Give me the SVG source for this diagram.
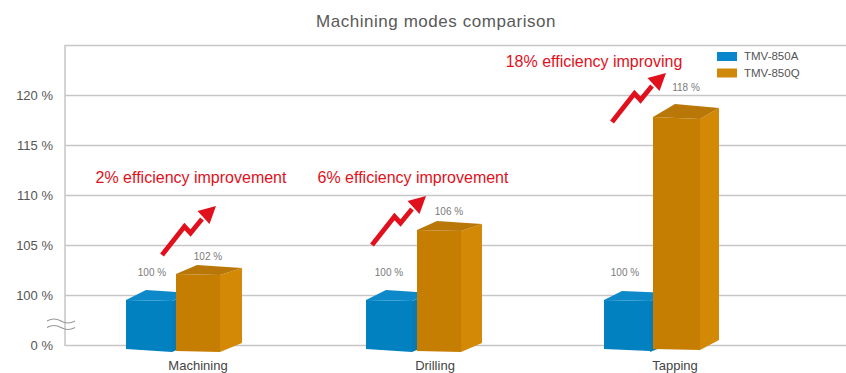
<svg xmlns="http://www.w3.org/2000/svg" width="846" height="373" viewBox="0 0 846 373">
<style>
text{font-family:"Liberation Sans",Arial,sans-serif}
.grid{stroke:#c6c6c6;stroke-width:1.5;fill:none}
.ylab{font-size:13px;fill:#555;text-anchor:end}
.xlab{font-size:13px;fill:#444;text-anchor:middle}
.val{font-size:10px;fill:#7a7a7a;text-anchor:middle}
.red{font-size:16px;fill:#e0111c;text-anchor:middle}
.leg{font-size:11.5px;fill:#555}
.bf{fill:#0281c0}.bt{fill:#0d89c9}.bs{fill:#0a7ab5}
.of{fill:#c67e02}.os{fill:#d38905}.ot{fill:#b97708}
.arr{fill:none;stroke:#e0111c;stroke-width:4.8;stroke-linejoin:miter}
.arh{fill:#e0111c}
</style>
<rect width="846" height="373" fill="#fff"/>
<text x="436" y="27" font-size="17" fill="#595959" text-anchor="middle" letter-spacing="0.55">Machining modes comparison</text>
<g id="axes">
<line class="grid" x1="65" y1="45.5" x2="846" y2="45.5"/>
<line class="grid" x1="65" y1="95.5" x2="846" y2="95.5"/>
<line class="grid" x1="65" y1="145.5" x2="846" y2="145.5"/>
<line class="grid" x1="65" y1="195.5" x2="846" y2="195.5"/>
<line class="grid" x1="65" y1="245.5" x2="846" y2="245.5"/>
<line class="grid" x1="65" y1="295.5" x2="846" y2="295.5"/>
<line class="grid" x1="65" y1="345.5" x2="846" y2="345.5"/>
<line class="grid" x1="65" y1="45" x2="65" y2="346"/>
<path d="M47,321 q7,-4 14,0 t14,0 M47,327.5 q7,-4 14,0 t14,0" fill="none" stroke="#999" stroke-width="1.2"/>
<text class="ylab" x="53" y="100">120 %</text>
<text class="ylab" x="53" y="150">115 %</text>
<text class="ylab" x="53" y="200">110 %</text>
<text class="ylab" x="53" y="250">105 %</text>
<text class="ylab" x="53" y="300">100 %</text>
<text class="ylab" x="53" y="350">0 %</text>
</g>
<g id="bars-machining">
<polygon class="bs" points="172,301 192,293 192,344 172,352"/>
<polygon class="bf" points="126,300 172,301 172,352 126,349"/>
<polygon class="bt" points="126,300 146,290 192,293 172,301"/>
<polygon class="os" points="220,275 242,268 242,343 220,352"/>
<polygon class="of" points="176,274 220,275 220,352 176,351"/>
<polygon class="ot" points="176,274 197,265 242,268 220,275"/>
<text class="val" x="152" y="276">100 %</text>
<text class="val" x="208" y="260">102 %</text>
</g>
<g id="bars-drilling">
<polygon class="bs" points="412,301 432,293 432,344 412,352"/>
<polygon class="bf" points="366,300 412,301 412,352 366,349"/>
<polygon class="bt" points="366,300 386,290 432,293 412,301"/>
<polygon class="os" points="461,231 482,224 482,343 461,352"/>
<polygon class="of" points="417,230 461,231 461,352 417,351"/>
<polygon class="ot" points="417,230 437,221 482,224 461,231"/>
<text class="val" x="389" y="276">100 %</text>
<text class="val" x="449" y="215">106 %</text>
</g>
<g id="bars-tapping">
<polygon class="bs" points="650,301 670,293 670,344 650,352"/>
<polygon class="bf" points="604,300 650,301 650,351 604,349"/>
<polygon class="bt" points="604,300 622,291 670,293 650,301"/>
<polygon class="os" points="700,119 719,108 719,340 700,350"/>
<polygon class="of" points="653,117 700,119 700,350 653,349"/>
<polygon class="ot" points="653,117 675,104 719,108 700,119"/>
<text class="val" x="625" y="276">100 %</text>
<text class="val" x="686" y="91">118 %</text>
</g>
<g id="connectors">
<g id="arrow-machining">
<polyline class="arr" points="162,255 184.5,226.5 190.5,233 202,219"/>
<polygon class="arh" points="216,206 197.5,211 209.5,224"/>
</g>
<g id="arrow-drilling" transform="translate(210,-10)">
<polyline class="arr" points="162,255 184.5,226.5 190.5,233 202,219"/>
<polygon class="arh" points="216,206 197.5,211 209.5,224"/>
</g>
<g id="arrow-tapping" transform="translate(450,-133)">
<polyline class="arr" points="162,255 184.5,226.5 190.5,233 202,219"/>
<polygon class="arh" points="216,206 197.5,211 209.5,224"/>
</g>
</g>
<text class="red" x="191" y="183">2% efficiency improvement</text>
<text class="red" x="413" y="183">6% efficiency improvement</text>
<text class="red" x="594" y="67">18% efficiency improving</text>
<text class="xlab" x="198" y="370">Machining</text>
<text class="xlab" x="435" y="370">Drilling</text>
<text class="xlab" x="675" y="370">Tapping</text>
<g id="legend">
<rect x="717" y="52" width="20" height="9" fill="#0a86cc"/>
<text class="leg" x="744" y="60">TMV-850A</text>
<rect x="717" y="68.5" width="20" height="9" fill="#d0880a"/>
<text class="leg" x="744" y="77">TMV-850Q</text>
</g>
</svg>
